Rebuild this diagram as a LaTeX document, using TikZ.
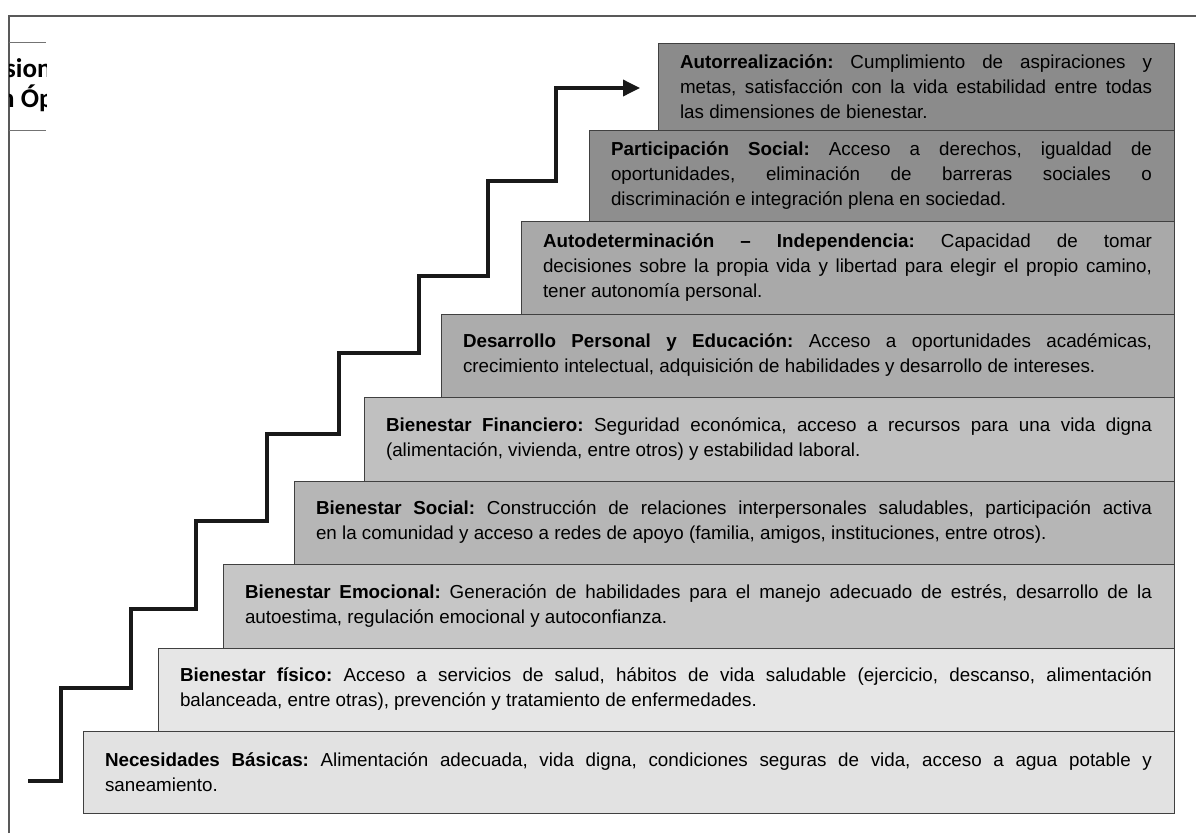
\documentclass[tikz,border=0pt]{standalone}
\usepackage{fontspec}
\setmainfont{Liberation Sans}
\newfontfamily\cutfont{Carlito}
\usetikzlibrary{arrows.meta,positioning}
\frenchspacing

\definecolor{colAuto}{HTML}{8B8B8B}
\definecolor{colPart}{HTML}{8E8E8E}
\definecolor{colDet}{HTML}{A9A9A9}
\definecolor{colDes}{HTML}{ACACAC}
\definecolor{colFin}{HTML}{C0C0C0}
\definecolor{colSoc}{HTML}{B6B6B6}
\definecolor{colEmo}{HTML}{C6C6C6}
\definecolor{colFis}{HTML}{E6E6E6}
\definecolor{colNec}{HTML}{E2E2E2}

% box text: a bit more shrink in the word spaces
\newcommand{\stepfont}{\fontsize{18.8}{25}\selectfont
  \spaceskip=0.278em plus 0.3em minus 0.14em\relax}

\tikzset{
  stepbox/.style={draw=black!75, line width=1pt, rectangle, anchor=north east,
    inner xsep=22pt, inner ysep=0pt, outer sep=0pt, align=justify,
    font=\stepfont},
  stair/.style={line width=3.5pt, black!90, -{Triangle[length=17pt,width=16pt]}},
  frameline/.style={draw=black!65, line width=1.6pt},
  cuttext/.style={anchor=base west, inner sep=0pt, font=\cutfont\bfseries\fontsize{27}{30}\selectfont},
}

\begin{document}
\begin{tikzpicture}[x=1pt,y=-1pt]
    \useasboundingbox (0,0) rectangle (1196,833);

    % The page frame and the cut-off title
    \draw[frameline] (9,833) -- (9,16) -- (1196,16);
    \draw[draw=black!55, line width=1pt] (9,42.7) -- (46,42.7);
    \draw[draw=black!55, line width=1pt] (9,130) -- (46,130);
    \begin{scope}
      \clip (9,43) rectangle (46,129);
      \node[cuttext] (cutA) at (5,77) {sion};
      \node[cuttext] (cutB) at (0,107) {n Óp};
    \end{scope}

    % The steps, top to bottom
    \node[stepbox, fill=colAuto, text width=472pt, minimum height=87pt] (auto) at (1174,43)
      {\textbf{Autorrealización:} Cumplimiento de aspiraciones y\linebreak
       metas, satisfacción con la vida estabilidad entre todas\linebreak
       las dimensiones de bienestar.};
    \node[stepbox, fill=colPart, text width=541pt, minimum height=91pt] (part) at (auto.south east)
      {\textbf{Participación Social:} Acceso a derechos, igualdad de\linebreak
       oportunidades, eliminación de barreras sociales o\linebreak
       discriminación e integración plena en sociedad.};
    \node[stepbox, fill=colDet, text width=609pt, minimum height=93pt] (deter) at (part.south east)
      {\textbf{Autodeterminación – Independencia:} Capacidad de tomar\linebreak
       decisiones sobre la propia vida y libertad para elegir el propio camino,\linebreak
       tener autonomía personal.};
    \node[stepbox, fill=colDes, text width=689pt, minimum height=83pt] (desa) at (deter.south east)
      {\textbf{Desarrollo Personal y Educación:} Acceso a oportunidades académicas,\linebreak
       crecimiento intelectual, adquisición de habilidades y desarrollo de intereses.};
    \node[stepbox, fill=colFin, text width=766pt, minimum height=84pt] (fina) at (desa.south east)
      {\textbf{Bienestar Financiero:} Seguridad económica, acceso a recursos para una vida digna\linebreak
       (alimentación, vivienda, entre otros) y estabilidad laboral.};
    \node[stepbox, fill=colSoc, text width=836pt, minimum height=83pt] (soci) at (fina.south east)
      {\textbf{Bienestar Social:} Construcción de relaciones interpersonales saludables, participación activa\linebreak
       en la comunidad y acceso a redes de apoyo (familia, amigos, instituciones, entre otros).};
    \node[stepbox, fill=colEmo, text width=907pt, minimum height=84pt] (emoc) at (soci.south east)
      {\textbf{Bienestar Emocional:} Generación de habilidades para el manejo adecuado de estrés, desarrollo de la\linebreak
       autoestima, regulación emocional y autoconfianza.};
    \node[stepbox, fill=colFis, text width=972pt, minimum height=83pt] (fisi) at (emoc.south east)
      {\textbf{Bienestar físico:} Acceso a servicios de salud, hábitos de vida saludable (ejercicio, descanso, alimentación\linebreak
       balanceada, entre otras), prevención y tratamiento de enfermedades.};
    \node[stepbox, fill=colNec, text width=1047pt, minimum height=82pt] (nece) at (fisi.south east)
      {\textbf{Necesidades Básicas:} Alimentación adecuada, vida digna, condiciones seguras de vida, acceso a agua potable y\linebreak
       saneamiento.};

    % The staircase arrow
    \coordinate (start) at (28,781);
    \coordinate (goal) at (640,88);
    \draw[stair] (start) -| (61,688) -| (131,609) -| (196,521) -| (267,434)
      -| (339,353) -| (419,276) -| (488,181) -| (556,88) -- (goal);
\end{tikzpicture}
\end{document}
